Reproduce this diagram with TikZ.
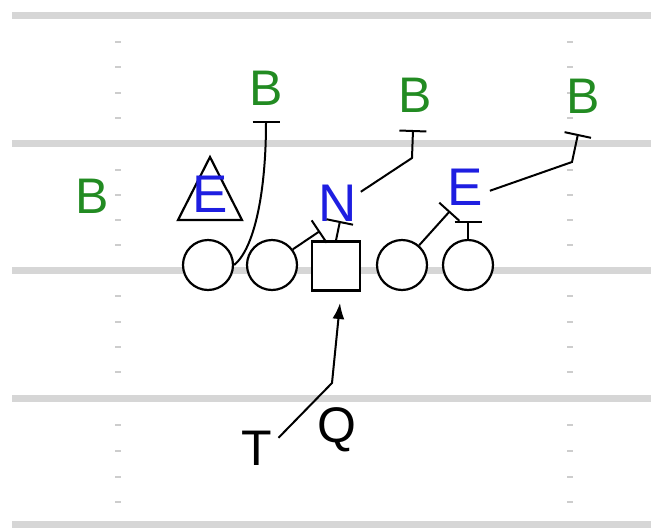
\documentclass[tikz,border=0pt]{standalone}
\usepackage{fontspec}
\setmainfont{Liberation Sans}
\usetikzlibrary{arrows.meta,calc}
\definecolor{fieldline}{RGB}{214,214,214}
\definecolor{hashgray}{RGB}{205,205,205}
\definecolor{defgreen}{RGB}{34,139,34}
\definecolor{offblue}{RGB}{30,30,225}
\begin{document}
\begin{tikzpicture}[x=1pt,y=-1pt,
  yardline/.style={fieldline,line width=7pt},
  hashmark/.style={hashgray,line width=2pt},
  player/.style={circle,draw,line width=2.2pt,minimum size=50pt,inner sep=0pt,fill=white},
  centerman/.style={rectangle,draw,line width=2.2pt,minimum width=48pt,minimum height=49pt,inner sep=0pt,fill=white},
  deflabel/.style={text=defgreen,font=\fontsize{50}{50}\selectfont,inner sep=0pt,anchor=base},
  offlabel/.style={text=offblue,font=\fontsize{53}{53}\selectfont,inner sep=0pt,anchor=base},
  plainlabel/.style={text=black,font=\fontsize{50}{50}\selectfont,inner sep=0pt,anchor=base},
  route/.style={line width=2pt,-{Bar[width=27pt]}},
  motion/.style={line width=2pt,-{Latex[length=16pt,width=12pt]}}
]
\useasboundingbox (0,0) rectangle (651,528);

% yard lines
\foreach \yy in {15,143,270,398,524}
  \draw[yardline] (12,\yy) -- (651,\yy);

% hash marks
\foreach \yy in {42,67,93,118,170,195,220,245,296,322,347,372,425,451,477,502}{
  \draw[hashmark] (115,\yy) -- (121,\yy);
  \draw[hashmark] (567,\yy) -- (573,\yy);
}

% offensive line
\node[player] (o1) at (208,265) {};
\node[player] (o2) at (272,265) {};
\node[centerman] (c) at (336,266) {};
\node[player] (o3) at (402,265) {};
\node[player] (o4) at (468,265) {};

% defensive end marker
\draw[line width=2.2pt] (210,157) -- (242,220) -- (178,220) -- cycle;

% labels
\node[deflabel] (b1) at (266,105) {B};
\node[deflabel] (b2) at (415,112) {B};
\node[deflabel] (b3) at (583,113) {B};
\node[deflabel] (b4) at (92,213) {B};
\node[offlabel] (e1) at (210,212) {E};
\node[offlabel] (n) at (338,221) {N};
\node[offlabel] (e2) at (465,205) {E};
\node[plainlabel] (t) at (257,465) {T};
\node[plainlabel] (q) at (337,442) {Q};

% route ends
\coordinate (b1bar) at (266,121);
\coordinate (o2bar) at (320,231);
\coordinate (cbar) at (340,221);
\coordinate (nturn) at (412,158);
\coordinate (b2bar) at (413,130);
\coordinate (eturn) at (572,162);
\coordinate (b3bar) at (578,134);
\coordinate (o3bar) at (450,211);
\coordinate (o4bar) at (468,221);
\coordinate (qturn) at (332,383);
\coordinate (qtip) at (340,303);

% blocking and pass routes
\draw[route] (o1.east) .. controls (255,248) and (266,190) .. (b1bar);
\draw[route] (o2.37) -- (o2bar);
\draw[route] (c.north) -- (cbar);
\draw[route] ($(n.east)+(3.5,-11)$) -- (nturn) -- (b2bar);
\draw[route] ($(e2.east)+(7,4)$) -- (eturn) -- (b3bar);
\draw[route] (o3.49) -- (o3bar);
\draw[route] (o4.north) -- (o4bar);
\draw[motion] ($(t.east)+(6,-10)$) -- (qturn) -- (qtip);
\end{tikzpicture}
\end{document}
